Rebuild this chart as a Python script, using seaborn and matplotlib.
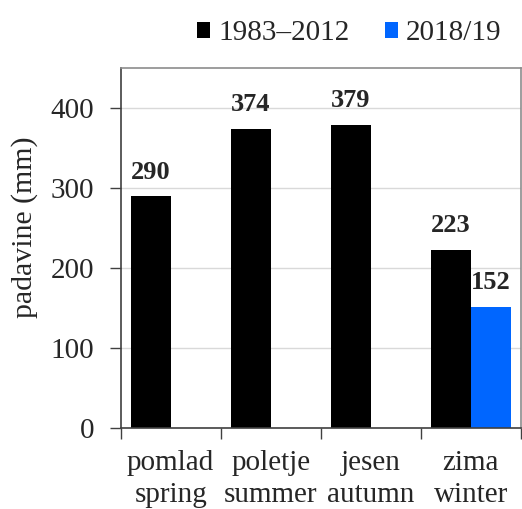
import numpy as np
import pandas as pd
import seaborn as sns
import matplotlib.pyplot as plt

# data
seasons = ['pomlad\nspring', 'poletje\nsummer', 'jesen\nautumn', 'zima\nwinter']
normal_1983_2012 = [290, 374, 379, 223]
season_2018_19 = [np.nan, np.nan, np.nan, 152]
periods = ['1983–2012', '2018/19']
colors = ['#000000', '#0066ff']

df = pd.DataFrame({
    'season': seasons * 2,
    'mm': normal_1983_2012 + season_2018_19,
    'period': [periods[0]] * 4 + [periods[1]] * 4,
})

sns.set_theme(style='white')
plt.rcParams['font.family'] = ['Liberation Serif', 'DejaVu Serif']

fig = plt.figure(figsize=(5.22, 5.09), dpi=100)
ax = fig.add_axes([0.231, 0.159, 0.767, 0.707])

sns.barplot(data=df, x='season', y='mm', hue='period', palette=colors,
            saturation=1, width=0.8, errorbar=None, linewidth=0, ax=ax, legend=True)

# value labels, skip the missing bars
for cont in ax.containers:
    labels = ['' if np.isnan(b.get_height()) else '%d' % b.get_height() for b in cont]
    ax.bar_label(cont, labels=labels, padding=9, fontsize=19, fontweight='bold')

ax.set_ylim(0, 450)
ax.set_yticks([0, 100, 200, 300, 400])
ax.yaxis.grid(True, color='#d9d9d9', linewidth=1)
ax.set_axisbelow(True)
ax.set_xlim(-0.5, 3.5)
ax.set_xlabel('')
ax.set_ylabel('padavine (mm)', fontsize=21.5)
ax.yaxis.set_label_coords(-0.207, 0.558)

# ticks: y outward, x at category borders
ax.tick_params(axis='y', which='major', left=True, length=8, width=1, color='#404040',
               labelsize=21, pad=11)
ax.set_xticks(np.arange(-0.5, 4.0, 1.0), minor=True)
ax.tick_params(axis='x', which='major', bottom=False, labelsize=21, pad=10)
ax.tick_params(axis='x', which='minor', bottom=True, length=8, width=1, color='#404040')
for t in ax.get_xticklabels():
    t.set_linespacing(1.3)

for side in ['left', 'bottom']:
    ax.spines[side].set_color('#404040')
for side in ['top', 'right']:
    ax.spines[side].set_color('#8c8c8c')
for s in ax.spines.values():
    s.set_linewidth(1.2)

handles, labs = ax.get_legend_handles_labels()
ax.get_legend().remove()
fig.legend(handles, labs, loc='upper right', bbox_to_anchor=(1.0, 1.0), ncol=2,
           frameon=False, fontsize=21, handlelength=0.45, handleheight=0.45,
           handletextpad=0.28, columnspacing=1.2, borderaxespad=0.3)

fig.savefig('out.png', dpi=100)
